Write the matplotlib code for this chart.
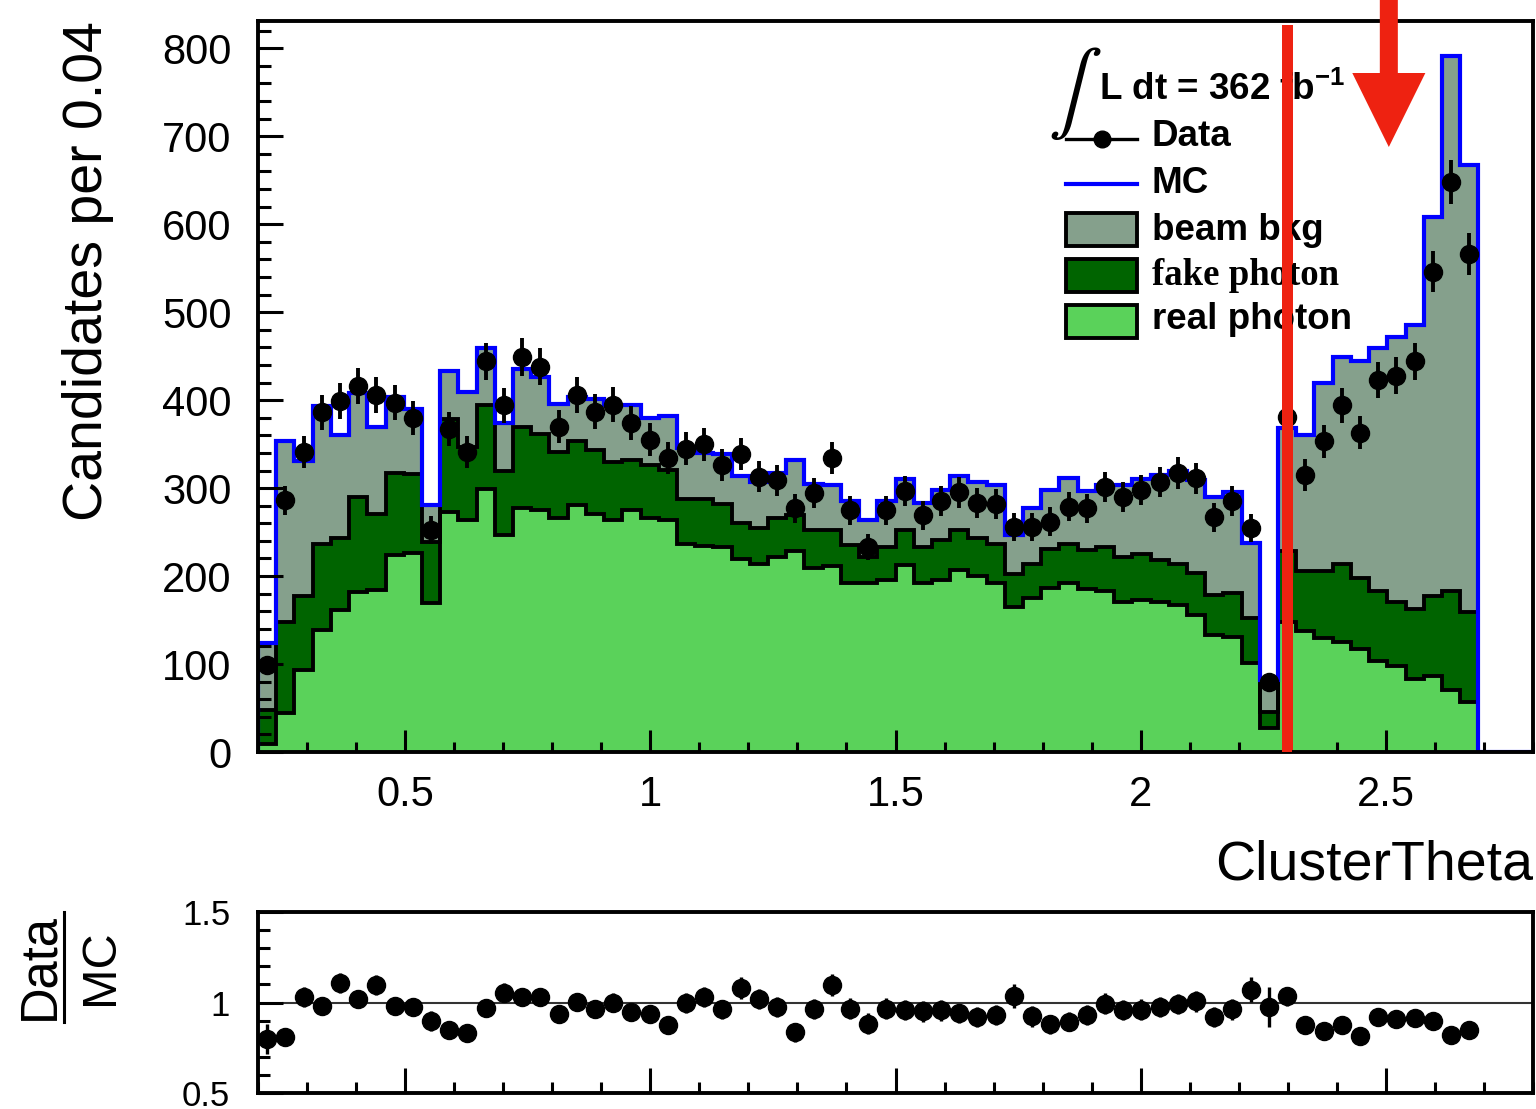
import numpy as np
import matplotlib
matplotlib.use("Agg")
import matplotlib.pyplot as plt
from matplotlib.patches import Rectangle, Polygon
from matplotlib.lines import Line2D
from matplotlib.ticker import MultipleLocator, FixedLocator

# ---------------- data ----------------
x_min, x_max, n_bins = 0.2, 2.8, 70

real_photon = [9, 44, 93, 139, 161, 182, 184, 224, 226, 169,
               273, 264, 299, 247, 277, 275, 266, 281, 271, 264,
               275, 266, 264, 237, 234, 233, 219, 214, 222, 228,
               209, 211, 192, 192, 196, 213, 192, 196, 207, 200,
               192, 165, 175, 186, 192, 185, 183, 171, 173, 171,
               167, 156, 133, 131, 101, 27, 148, 137, 130, 125,
               117, 103, 98, 83, 86, 70, 57, 0, 0, 0]

fake_photon = [39, 104, 84, 98, 82, 108, 87, 93, 90, 70,
               106, 83, 95, 73, 93, 86, 75, 72, 72, 66,
               57, 60, 57, 51, 54, 49, 41, 41, 44, 41,
               43, 41, 43, 30, 37, 39, 41, 45, 45, 43,
               44, 37, 39, 45, 45, 45, 50, 51, 52, 47,
               47, 47, 45, 50, 51, 19, 81, 69, 76, 89,
               81, 80, 73, 80, 91, 113, 102, 0, 0, 0]

beam_bkg = [76, 205, 154, 156, 117, 118, 99, 87, 74, 42,
            54, 62, 65, 54, 65, 65, 55, 51, 58, 65,
            63, 54, 61, 58, 52, 57, 54, 52, 51, 63,
            53, 52, 50, 42, 52, 58, 50, 57, 62, 64,
            67, 45, 63, 67, 75, 67, 70, 81, 85, 97,
            106, 106, 112, 115, 86, 36, 139, 154, 214, 235,
            246, 276, 301, 322, 431, 608, 508, 0, 0, 0]

data_counts = [99, 286, 341, 386, 399, 416, 406, 397, 380, 252,
               367, 341, 444, 394, 449, 438, 370, 406, 387, 395,
               374, 355, 334, 345, 350, 326, 339, 313, 309, 277,
               294, 334, 275, 233, 275, 297, 269, 285, 295, 283,
               282, 256, 256, 262, 279, 277, 301, 290, 298, 307,
               317, 311, 267, 285, 255, 80, 381, 315, 353, 394,
               363, 423, 428, 444, 546, 648, 566]

xtick_values = [0.5, 1.0, 1.5, 2.0, 2.5]
xtick_labels = ["0.5", "1", "1.5", "2", "2.5"]
ratio_ticks = [0.5, 1.0, 1.5]
ratio_tick_labels = ["0.5", "1", "1.5"]

cut_value = 2.3
arrow_x = 2.506

# ---------------- style ----------------
plt.rcParams['font.family'] = ['Liberation Sans', 'DejaVu Sans']
plt.rcParams['mathtext.fontset'] = 'custom'
plt.rcParams['mathtext.rm'] = 'Liberation Sans'
plt.rcParams['mathtext.bf'] = 'Liberation Sans:bold'

c_beam = '#85A08C'
c_fake = '#006400'
c_real = '#5AD25A'
c_mc = '#0000FF'
c_red = '#EE2211'

W, H = 1536, 1109
fig = plt.figure(figsize=(W / 100, H / 100), dpi=100)


def fx(px):
    return px / W


def fy(py):
    return 1 - py / H


ax = fig.add_axes([fx(258), fy(752), fx(1533) - fx(258), fy(21) - fy(752)])
rax = fig.add_axes([fx(258), fy(1093), fx(1533) - fx(258), fy(912) - fy(1093)])

edges = np.linspace(x_min, x_max, n_bins + 1)
centers = 0.5 * (edges[:-1] + edges[1:])

real = np.array(real_photon, float)
fake = np.array(fake_photon, float)
beam = np.array(beam_bkg, float)
s1 = real
s2 = real + fake
s3 = s2 + beam

ax.stairs(s3, edges, baseline=0, fill=True, color=c_beam, lw=0)
ax.stairs(s2, edges, baseline=0, fill=True, color=c_fake, lw=0)
ax.stairs(s1, edges, baseline=0, fill=True, color=c_real, lw=0)
for s in (s3, s2, s1):
    ax.stairs(s, edges, baseline=0, color='black', lw=2.8)
ax.stairs(s3, edges, baseline=0, color=c_mc, lw=3.0)

data = np.array(data_counts, float)
nd = len(data)
ax.errorbar(centers[:nd], data, yerr=np.sqrt(data), fmt='o', color='black',
            ms=13, elinewidth=2.8, capsize=0, zorder=5)

ax.set_xlim(x_min, x_max)
ax.set_ylim(0, 831)
ax.xaxis.set_major_locator(FixedLocator(xtick_values))
ax.set_xticklabels(xtick_labels)
ax.xaxis.set_minor_locator(MultipleLocator(0.1))
ax.yaxis.set_major_locator(MultipleLocator(100))
ax.yaxis.set_minor_locator(MultipleLocator(20))
ax.tick_params(which='both', direction='in', top=False, right=False, width=2.2)
ax.tick_params(axis='y', which='major', length=18, pad=19, labelsize=30)
ax.tick_params(axis='y', which='minor', length=9.4)
ax.tick_params(axis='x', which='major', length=15.6, pad=16.5, labelsize=30)
ax.tick_params(axis='x', which='minor', length=7.2)
for sp in ax.spines.values():
    sp.set_linewidth(2.8)
    sp.set_zorder(10)

# cut line and arrow
ax.plot([cut_value, cut_value], [0, 826], color=c_red, lw=7.2,
        solid_capstyle='butt', zorder=8)
px_per_x = 490.0
px_per_y = 731.0 / 831.0
hw_shaft = 9 / px_per_x
hw_head = 36.5 / px_per_x
y_base = (752 - 73) / px_per_y
y_tip = (752 - 147) / px_per_y
y_top = 900
arrow = Polygon([[arrow_x - hw_shaft, y_top], [arrow_x + hw_shaft, y_top],
                 [arrow_x + hw_shaft, y_base], [arrow_x + hw_head, y_base],
                 [arrow_x, y_tip], [arrow_x - hw_head, y_base],
                 [arrow_x - hw_shaft, y_base]], closed=True,
                facecolor=c_red, edgecolor='none', clip_on=False, zorder=12)
ax.add_patch(arrow)

# legend (manual)
LFS = 26.5
fig.text(fx(1048), fy(93), r"$\int$", fontsize=58, math_fontfamily='stix',
         ha='left', va='center')
fig.text(fx(1099), fy(100), r"L dt = 362 fb$^{\mathbf{-1}}$", fontsize=LFS,
         fontweight='bold', ha='left', va='baseline')
fig.add_artist(Line2D([fx(1066), fx(1137)], [fy(139), fy(139)], color='black', lw=2.4))
fig.add_artist(Line2D([fx(1102)], [fy(139)], color='black', marker='o', ms=12, lw=0))
fig.text(fx(1152), fy(146), "Data", fontsize=LFS, fontweight='bold', ha='left', va='baseline')
fig.add_artist(Line2D([fx(1066), fx(1137)], [fy(184), fy(184)], color=c_mc, lw=3))
fig.text(fx(1152), fy(193), "MC", fontsize=LFS, fontweight='bold', ha='left', va='baseline')
for (top, bot, col, label, fam, base) in [
        (213, 246, c_beam, "beam bkg", 'Liberation Sans', 240),
        (259, 292, c_fake, "fake photon", 'Liberation Serif', 285),
        (305, 338, c_real, "real photon", 'Liberation Sans', 329)]:
    fig.add_artist(Rectangle((fx(1066), fy(bot)), fx(1137) - fx(1066), fy(top) - fy(bot),
                             facecolor=col, edgecolor='black', lw=2.8))
    fig.text(fx(1152), fy(base), label, fontsize=LFS,
             fontweight='bold', family=fam, ha='left', va='baseline')

# red cut line drawn over the legend text as in the original
fig.add_artist(Line2D([fx(1287), fx(1287)], [fy(752), fy(25)], color=c_red, lw=7.2,
                      solid_capstyle='butt', zorder=20))

# axis labels
fig.text(fx(102), fy(271), "Candidates per 0.04", rotation=90, rotation_mode='anchor',
         ha='center', va='baseline', fontsize=40)
fig.text(fx(1533), fy(880), "ClusterTheta", ha='right', va='baseline', fontsize=40)

# ---------------- ratio panel ----------------
mc = s3[:nd]
ratio = data / mc
ratio_err = np.sqrt(data) / mc
rax.plot([0.25, x_max], [1, 1], color='0.2', lw=1.5, zorder=1)
rax.errorbar(centers[:nd], ratio, yerr=ratio_err, fmt='o', color='black',
             ms=13, elinewidth=2.4, capsize=0, zorder=5)
rax.set_xlim(x_min, x_max)
rax.set_ylim(0.5, 1.5)
rax.xaxis.set_major_locator(FixedLocator(xtick_values))
rax.xaxis.set_minor_locator(MultipleLocator(0.1))
rax.yaxis.set_major_locator(FixedLocator(ratio_ticks))
rax.set_yticklabels(ratio_tick_labels)
rax.yaxis.set_minor_locator(MultipleLocator(0.1))
rax.tick_params(which='both', direction='in', top=False, right=False, width=2.2)
rax.tick_params(axis='x', which='major', length=18, labelbottom=False)
rax.tick_params(axis='x', which='minor', length=8)
rax.tick_params(axis='y', which='major', length=18, pad=20, labelsize=25)
rax.tick_params(axis='y', which='minor', length=8.6)
for sp in rax.spines.values():
    sp.set_linewidth(2.8)

fig.text(fx(53), fy(967), "Data", rotation=90, rotation_mode='anchor',
         ha='center', va='baseline', fontsize=36.5)
fig.text(fx(113), fy(967), "MC", rotation=90, rotation_mode='anchor',
         ha='center', va='baseline', fontsize=35)
fig.add_artist(Line2D([fx(63.5), fx(63.5)], [fy(912), fy(1022)], color='black', lw=2.2))

fig.savefig("out.png", dpi=100)
